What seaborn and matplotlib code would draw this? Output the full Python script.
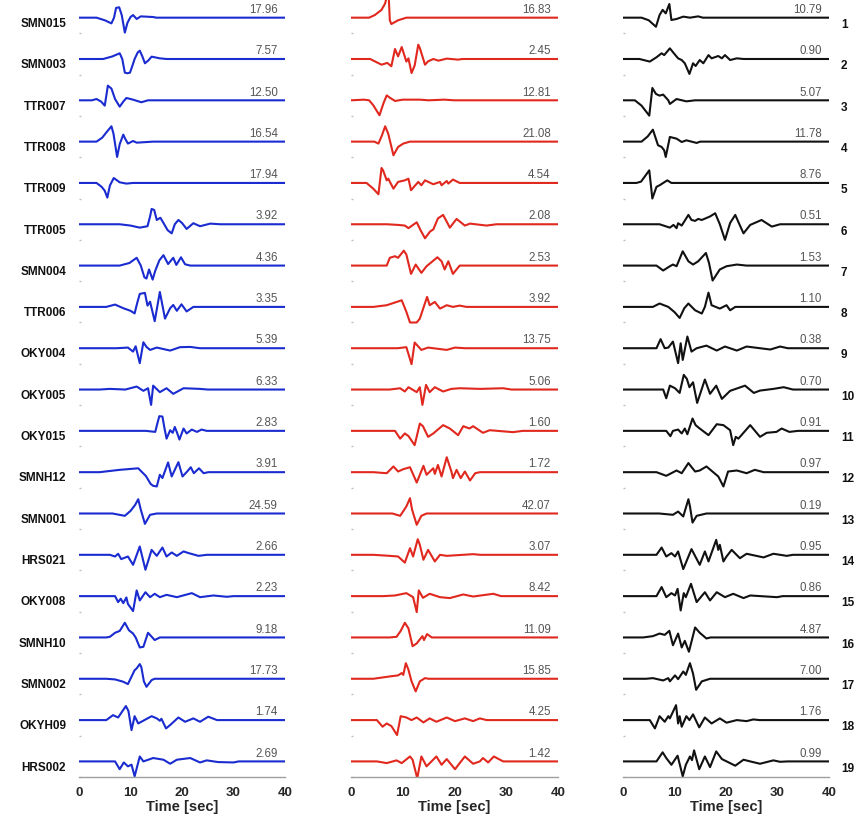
import matplotlib
matplotlib.use("Agg")
import matplotlib.pyplot as plt
import pandas as pd
import seaborn as sns

sns.set_style("white")
plt.rcParams["font.family"] = ["Liberation Sans", "DejaVu Sans"]

# ---------------- data ----------------
blue_labels = ["SMN015", "SMN003", "TTR007", "TTR008", "TTR009", "TTR005", "SMN004",
               "TTR006", "OKY004", "OKY005", "OKY015", "SMNH12", "SMN001", "HRS021",
               "OKY008", "SMNH10", "SMN002", "OKYH09", "HRS002"]
row_numbers = [str(i) for i in range(1, 20)]

blue_values = ["17.96", "7.57", "12.50", "16.54", "17.94", "3.92", "4.36", "3.35", "5.39", "6.33",
               "2.83", "3.91", "24.59", "2.66", "2.23", "9.18", "17.73", "1.74", "2.69"]
red_values = ["16.83", "2.45", "12.81", "21.08", "4.54", "2.08", "2.53", "3.92", "13.75", "5.06",
              "1.60", "1.72", "42.07", "3.07", "8.42", "11.09", "15.85", "4.25", "1.42"]
black_values = ["10.79", "0.90", "5.07", "11.78", "8.76", "0.51", "1.53", "1.10", "0.38", "0.70",
                "0.91", "0.97", "0.19", "0.95", "0.86", "4.87", "7.00", "1.76", "0.99"]

# waveform knots (time [s], normalised amplitude)
blue_traces = [
    [(0,0),(3.4,0),(5,-0.2),(6.3,-0.44),(6.8,0),(7.2,0.75),(7.8,0.8),(8.3,0.2),(8.9,-1.15),(9.4,-0.4),(10.0,0.05),(10.5,0.2),(11.2,-0.1),(12,0.1),(14.4,0.05),(15,0),(40,0)],
    [(0,0),(4.7,0),(6.5,0.2),(7.9,0.44),(8.4,0),(8.9,-1.05),(9.4,-1.1),(9.9,-1.05),(10.3,-0.6),(10.8,0.0),(11.4,0.5),(11.8,0.64),(12.3,0.2),(12.8,-0.33),(13.5,-0.1),(14.1,0.18),(15.7,0.05),(17,0),(40,0)],
    [(0,0),(2.5,0),(3.4,0.1),(4.3,-0.1),(5.0,-0.41),(5.4,0.6),(5.6,1.13),(6.3,0.9),(7.0,0.1),(7.9,-0.49),(8.6,-0.1),(9.2,0.18),(10.5,0.05),(12.1,-0.15),(13.4,0),(40,0)],
    [(0,0),(3.4,0),(4.5,0.3),(5.5,0.8),(6.3,1.18),(6.7,0.6),(7.4,-1.18),(7.9,-0.2),(8.6,0.54),(9.0,0.2),(9.5,-0.15),(10.5,0.05),(11.2,-0.08),(14.4,0),(40,0)],
    [(0,0),(3.4,0),(4.4,-0.3),(5.0,-0.6),(5.5,-1.13),(6.0,-0.2),(6.75,0.38),(7.9,0.05),(9.2,-0.05),(10.5,0),(40,0)],
    [(0,0),(7.9,0),(10,-0.1),(11.8,-0.26),(13.3,-0.15),(13.8,0.6),(14.1,1.18),(14.6,1.1),(15.1,0.33),(15.8,0.5),(16.4,0.1),(17.2,-0.45),(18.0,-0.7),(18.6,0),(19.3,0.33),(20.0,0.1),(20.9,-0.36),(22.2,0.08),(23.5,-0.15),(25.5,0.05),(27.4,0),(40,0)],
    [(0,0),(7.9,0),(9.8,0.2),(11.2,0.6),(12.0,0),(12.7,-0.9),(13.1,-1.0),(13.6,-0.3),(14.3,-1.08),(14.8,-0.4),(15.6,0.4),(16.4,0.8),(17.3,0.12),(18.3,0.6),(18.9,0.05),(19.8,0.64),(20.6,0.1),(21.6,0),(40,0)],
    [(0,0),(5.3,0),(7.0,0.18),(8.6,-0.1),(10.0,-0.3),(10.8,-0.5),(11.3,0.3),(11.8,1.0),(12.8,1.08),(13.3,0.1),(13.8,0.4),(14.7,-1.1),(15.7,1.15),(16.7,-0.9),(17.7,-0.1),(18.3,0.15),(19.0,-0.3),(19.9,0.2),(20.9,-0.35),(22.2,0),(40,0)],
    [(0,0),(7.3,0),(9.5,0.05),(10.5,-0.26),(11.0,0.15),(11.8,-1.15),(12.5,0.46),(13.1,0.1),(13.8,-0.13),(15.1,0.05),(17.7,-0.18),(19.6,0.08),(21.6,0.1),(23.5,0),(40,0)],
    [(0,0),(4,0),(6,0.05),(9,0.0),(11.2,0.23),(12.5,-0.1),(13.4,0.1),(14.0,-1.18),(14.4,0.3),(15.7,-0.2),(17.0,0.1),(18.3,-0.33),(20.3,0.1),(23.5,0.05),(25,0),(40,0)],
    [(0,0),(13,0),(14.8,-0.08),(15.3,0.7),(15.6,1.13),(16.2,1.1),(16.6,0.2),(17.0,-0.6),(17.7,0.05),(18.2,-0.15),(18.6,0.3),(19.0,-0.1),(19.5,-0.67),(20.3,0.18),(20.9,-0.2),(21.9,0.1),(22.9,-0.08),(23.8,0.1),(24.8,0),(40,0)],
    [(0,0),(4,0),(7.9,0.18),(11.5,0.3),(13.0,-0.3),(13.9,-0.9),(14.4,-1.05),(15.1,-1.1),(15.7,-0.2),(16.2,-0.45),(17.3,0.75),(18.0,-0.33),(19.3,0.77),(20.1,-0.33),(21.0,0.05),(21.7,0.38),(22.3,-0.08),(23.3,0.3),(24.2,-0.08),(25.1,0),(40,0)],
    [(0,0),(6.5,0),(8.9,-0.18),(10.0,0.2),(10.9,0.66),(11.5,1.1),(12.0,0.3),(12.8,-0.8),(13.8,-0.1),(15.1,0),(40,0)],
    [(0,0),(6,0),(7.0,-0.13),(7.6,0.08),(8.2,-0.33),(9.5,-0.13),(10.5,-0.77),(11.8,0.64),(12.9,-1.15),(14.1,0.38),(15.1,-0.08),(16.2,0.56),(17.0,-0.13),(18.0,0.18),(19.0,-0.08),(20.3,0.26),(21.3,0.13),(23.2,-0.08),(24.8,0),(40,0)],
    [(0,0),(7,0),(7.6,-0.46),(8.1,-0.2),(8.6,-0.54),(9.2,-0.1),(9.5,-0.6),(10.5,-1.15),(11.2,0.44),(11.8,-0.33),(12.9,0.3),(13.8,-0.08),(14.7,0.18),(15.7,-0.08),(17.0,0.1),(19.0,-0.08),(21.9,0.23),(23.5,-0.08),(26.1,0.05),(28.7,-0.05),(30,0),(40,0)],
    [(0,0),(5.3,0),(6.0,0.05),(7.0,0.36),(7.9,0.5),(8.9,1.13),(9.7,0.55),(10.5,0.3),(11.0,0.0),(11.8,-0.77),(12.5,-0.72),(13.4,0.36),(14.7,-0.2),(15.7,0),(40,0)],
    [(0,0),(5.3,0),(7.0,-0.05),(8.6,-0.23),(9.5,-0.41),(10.8,0.66),(11.2,0.8),(11.8,1.13),(12.1,0.9),(12.6,-0.2),(13.1,-0.62),(14.1,-0.1),(14.7,0),(40,0)],
    [(0,0),(5.3,0),(6.6,0.38),(7.6,0.2),(9.1,1.08),(9.6,0.7),(10.2,-0.77),(10.8,0.3),(11.5,-0.26),(12.1,-0.13),(14.1,0.3),(15.1,0.13),(15.7,-0.05),(16.0,0.1),(16.9,-0.64),(17.7,-0.38),(19.3,0.2),(20.6,-0.13),(22.2,0.13),(23.5,-0.13),(25.1,0.26),(26.8,0),(40,0)],
    [(0,0),(7,0),(7.9,-0.6),(8.7,-0.08),(9.5,-0.38),(10.2,-0.25),(10.8,-1.15),(11.8,0.38),(12.5,0.0),(14.4,0.26),(16.4,0.13),(17.7,-0.18),(19.0,0.13),(21.6,0.26),(23.5,-0.08),(24.8,0.08),(27,-0.05),(30,-0.08),(31,0),(40,0)],
]

red_traces = [
    [(0,0),(3.5,0),(4.6,0.2),(5.9,0.6),(6.6,1.1),(6.9,1.6),(7.3,1.5),(7.5,-0.2),(7.8,-0.49),(9.1,-0.2),(10.7,0),(40,0)],
    [(0,0),(3.7,0),(5.9,-0.44),(7.0,-0.3),(7.8,-0.56),(8.5,0.77),(9.1,0.2),(9.8,0.92),(10.7,-0.2),(11.1,0.05),(11.7,-1.08),(12.3,-0.5),(13.0,1.1),(13.3,0.85),(14.3,-0.44),(14.9,-0.18),(15.9,0),(16.9,-0.13),(18.5,0.03),(20.7,-0.05),(21.5,0),(40,0)],
    [(0,0),(2.5,0.05),(3.5,0.0),(4.3,-0.38),(5.5,-1.15),(6.3,-0.2),(6.9,0.38),(7.5,0.2),(8.5,-0.05),(10,0.05),(13.3,0.05),(15,0.0),(18,0.05),(20,0),(40,0)],
    [(0,0),(4.5,0),(5.3,-0.15),(6.0,0.5),(6.6,1.18),(7.2,0.6),(8.2,-1.05),(9.1,-0.41),(10.1,-0.15),(11.4,0),(40,0)],
    [(0,0),(3,0),(4.3,-0.44),(5.3,-0.87),(5.9,1.15),(6.2,0.97),(6.9,0.2),(7.2,0.33),(8.2,-0.44),(9.1,0.08),(10.4,0.2),(11.1,0.33),(11.6,-0.56),(13.0,0.08),(13.6,-0.18),(14.3,0.2),(15.9,-0.1),(17.2,0.08),(17.5,-0.18),(18.5,0.15),(18.8,-0.05),(19.7,0.26),(21.0,0),(40,0)],
    [(0,0),(6.9,0),(9.1,-0.05),(10.4,-0.1),(11.1,-0.3),(12.7,0.15),(13.5,-0.5),(14.3,-1.08),(15.3,-0.55),(15.9,-0.4),(16.8,0.45),(17.8,0.72),(18.5,0.2),(19.1,-0.26),(20.4,0.41),(22.0,-0.1),(23.0,0.05),(26.2,-0.1),(28.1,0),(40,0)],
    [(0,0),(6.9,0),(7.5,0.6),(8.5,0.72),(9.1,0.6),(10.2,1.15),(10.7,0.85),(11.6,-0.64),(12.5,0.08),(13.6,-0.56),(14.6,-0.05),(16.7,0.64),(17.5,0.33),(18.1,-0.3),(18.8,0.33),(19.7,-0.64),(21.0,0),(40,0)],
    [(0,0),(4.3,0),(6.9,0.13),(9.8,0.51),(10.7,-0.38),(11.4,-1.2),(12.7,-1.2),(13.3,-0.9),(14.7,0.77),(15.2,0.13),(16.2,0.38),(17.2,-0.13),(18.5,0.13),(19.7,0),(21.0,0.1),(22.3,0),(40,0)],
    [(0,0),(9,0),(10.7,0.08),(11.7,-1.23),(12.3,0.44),(13.6,-0.13),(14.9,0.05),(18.5,-0.13),(20.1,0.05),(22,0),(40,0)],
    [(0,0),(7.5,0),(9.5,0.1),(10.4,-0.15),(11.1,0.18),(12.7,-0.2),(13.3,0.18),(13.8,-1.18),(14.5,0.36),(15.2,-0.2),(16.2,0.18),(17.8,-0.15),(19.4,0.05),(21.0,0.1),(25,0.05),(29.4,0.1),(31,0),(40,0)],
    [(0,0),(8.5,0),(9.5,-0.6),(10.4,-0.2),(11.1,-0.4),(12.3,-1.1),(13.3,0.56),(13.9,0.36),(14.9,-0.46),(15.9,-0.2),(17.8,0.44),(19.1,0.18),(20.7,-0.33),(21.7,0.36),(22.9,0.18),(23.6,0.36),(25.5,-0.15),(26.8,0.05),(31.3,-0.1),(33.2,0),(40,0)],
    [(0,0),(4.3,0),(6.9,-0.08),(8.2,0.44),(9.1,0.05),(10.1,0.23),(11.4,0.38),(12.7,-0.8),(14.0,0.49),(14.6,-0.2),(15.9,0.3),(16.2,-0.13),(16.8,0.56),(17.5,-0.33),(18.5,1.15),(19.4,0.05),(19.7,-0.46),(20.4,0.18),(21.2,-0.46),(22.0,0.05),(23.0,-0.64),(24.0,-0.08),(24.9,0),(40,0)],
    [(0,0),(8,0),(9.5,-0.18),(10.7,0.54),(11.4,1.18),(11.8,0.3),(12.7,-0.87),(13.6,-0.18),(14.6,0),(40,0)],
    [(0,0),(4.3,0),(7.5,-0.08),(9.1,-0.13),(10.4,-0.6),(11.4,0.51),(12.0,-0.13),(12.9,1.2),(13.3,0.77),(14.0,-0.38),(14.9,0.38),(16.2,-0.51),(17.2,0),(18.5,-0.08),(23.6,0.05),(25,0),(40,0)],
    [(0,0),(6.2,0),(8.5,0.05),(10.7,0.23),(12.0,-0.08),(12.7,-1.23),(13.1,0.44),(13.9,-0.13),(15.2,0.18),(17.2,-0.08),(19.1,-0.15),(21.7,0.13),(23.6,-0.03),(27.5,0.18),(29,0),(40,0)],
    [(0,0),(7.5,0),(8.8,0.05),(9.6,0.5),(10.4,1.13),(11.1,0.7),(11.9,-0.67),(12.7,-0.46),(13.3,-0.15),(13.8,0.1),(14.1,-0.2),(14.7,0.26),(15.6,0),(40,0)],
    [(0,0),(4.3,0),(7.5,0.18),(9.1,0.26),(9.8,0.44),(10.1,0.3),(10.6,1.2),(11.1,0.7),(11.7,-0.2),(12.5,-0.97),(13.3,-0.2),(14.3,0.05),(15,0),(40,0)],
    [(0,0),(5,0),(6.1,-0.51),(6.9,-0.26),(7.8,-0.46),(8.9,-1.15),(9.6,0.3),(10.7,0.2),(11.7,0),(12.7,0.2),(14.0,-0.18),(15.2,0.13),(16.5,-0.13),(18.5,0.2),(20.1,-0.08),(22.0,0.13),(23.6,-0.08),(24.9,0.13),(26.2,0),(40,0)],
    [(0,0),(5,0),(6.9,-0.13),(8.8,0.08),(9.8,-0.13),(11.4,0.38),(11.9,0.13),(12.8,-1.3),(13.6,0.38),(14.6,-0.38),(16.5,0.38),(17.5,-0.26),(18.5,0.18),(20.1,-0.6),(22.0,0.38),(23.6,-0.18),(24.9,0.0),(25.5,0.26),(26.5,-0.08),(27.6,0.38),(29.4,0),(40,0)],
]

black_traces = [
    [(0,0),(3.6,0),(5.0,-0.2),(6.4,-0.7),(7.1,0.2),(7.7,0.6),(8.3,0.33),(9.0,1.05),(9.4,-0.18),(10.4,-0.1),(11.7,0.08),(13.0,0),(14.6,0.1),(15.5,0),(40,0)],
    [(0,0),(3.2,0),(5.2,-0.2),(6.5,0.13),(7.5,0.44),(8.0,0.3),(9.1,0.82),(10.0,0.38),(10.7,0.05),(11.4,-0.08),(12.0,-0.33),(12.9,-1.15),(13.6,-0.33),(14.1,-0.54),(14.9,-0.08),(15.6,-0.33),(16.6,0.3),(17.2,0.05),(18.5,0.23),(19.2,0.05),(19.8,0.3),(20.8,-0.08),(22.1,0.05),(23.4,0),(40,0)],
    [(0,0),(2.3,0),(3.6,-0.41),(5.1,-1.18),(5.7,0.95),(6.4,0.49),(7.1,0.36),(7.8,0.44),(8.8,0),(9.1,-0.28),(10.4,0.1),(12.3,-0.08),(14,0),(40,0)],
    [(0,0),(3.6,0),(4.8,0.4),(5.8,0.92),(6.8,-0.28),(7.5,-0.41),(8.0,-0.67),(8.3,-1.18),(9.1,0.36),(10.4,0.23),(11.4,-0.03),(12.3,0.1),(14.3,-0.1),(15,0),(40,0)],
    [(0,0),(2.6,0),(3.5,0.1),(5.1,0.97),(5.7,-1.2),(6.5,-0.3),(7.1,-0.18),(8.6,0.2),(9.4,0),(40,0)],
    [(0,0),(7.1,0),(9.1,-0.26),(9.8,-0.05),(10.4,-0.3),(10.7,0.08),(11.4,-0.1),(12.7,0.72),(13.3,0.33),(14.0,0.26),(14.6,0.41),(15.3,0.33),(16.9,0.6),(17.9,0.85),(18.8,0.0),(19.8,-1.2),(20.8,0.1),(21.8,0.72),(22.6,0.0),(23.4,-0.7),(24.7,-0.05),(26.9,0.33),(28.9,-0.18),(30.5,0),(40,0)],
    [(0,0),(6.5,0),(7.8,-0.38),(9.1,-0.05),(9.7,0.08),(10.4,-0.05),(11.6,1.1),(12.7,0.33),(13.6,0.08),(14.6,0.33),(16.1,0.97),(16.7,0.2),(17.4,-1.15),(18.8,-0.3),(20.1,-0.05),(22.1,0.08),(24,0),(40,0)],
    [(0,0),(5.8,0),(7.1,0.26),(8.8,0),(10.0,-0.4),(11.0,-0.85),(11.9,-0.1),(12.7,0.26),(14.0,-0.26),(15.3,-0.51),(15.9,0.0),(16.6,1.1),(17.2,0.13),(18.8,-0.13),(20.1,0.13),(20.8,-0.26),(21.8,0),(40,0)],
    [(0,0),(6.5,0),(7.3,0.7),(8.1,0.0),(8.8,0.05),(9.7,0.51),(10.7,-1.15),(11.2,0.38),(11.6,-0.9),(12.5,0.9),(13.3,-0.26),(14.3,0.0),(16.2,0.2),(18.2,-0.18),(19.8,0.13),(22.1,-0.18),(24.0,0.13),(28.6,-0.1),(30.5,0.13),(32,0),(40,0)],
    [(0,0),(7.8,0),(8.4,-0.67),(9.1,0.3),(10.1,0.1),(11.0,-0.26),(11.8,1.13),(12.4,0.82),(12.9,0.18),(13.6,0.56),(14.4,-1.03),(15.9,0.77),(16.9,-0.33),(18.1,0.3),(19.2,-0.72),(20.8,-0.1),(23.7,0.3),(25.4,-0.26),(26.6,-0.08),(29.2,0.05),(31.2,0.18),(33,0),(40,0)],
    [(0,0),(8.4,0),(9.2,-0.41),(9.7,0.0),(10.7,0.1),(11.4,-0.2),(12.0,0.18),(12.5,-0.26),(13.5,0.95),(14.1,0.44),(14.9,0.18),(16.6,-0.33),(18.2,0.51),(19.5,0.44),(20.8,0.05),(21.4,-1.1),(21.9,-0.46),(22.4,-0.6),(24.7,0.44),(26.6,-0.46),(27.9,-0.15),(29.8,-0.08),(30.8,0.18),(32.3,-0.08),(34,0),(40,0)],
    [(0,0),(6.5,0),(8.4,-0.28),(10.4,0.13),(11.4,-0.08),(12.7,0.7),(14.0,0.05),(14.9,0.13),(16.2,0.44),(18.5,-0.33),(19.5,-1.1),(20.4,0.05),(22.1,0.13),(24.0,-0.08),(25.6,0.18),(27.3,0),(40,0)],
    [(0,0),(7,0),(9.7,-0.1),(10.7,0.15),(11.7,-0.23),(12.7,1.1),(13.0,0.55),(13.5,-0.7),(14.3,-0.18),(16.2,0),(40,0)],
    [(0,0),(6.5,0),(7.5,0.56),(8.4,-0.13),(9.4,0.13),(10.1,-0.13),(10.7,0.26),(11.7,-1.1),(13.3,0.44),(14.9,-0.77),(15.9,0.26),(16.6,-0.51),(18.1,1.15),(18.5,0.38),(18.8,0.77),(19.5,-0.51),(20.1,-0.13),(21.1,0.38),(22.7,-0.26),(24.0,0.08),(27.3,-0.2),(29.2,0.08),(31.8,-0.08),(33,0),(40,0)],
    [(0,0),(6.5,0),(7.5,0.7),(8.4,-0.08),(9.4,0.23),(10.1,0.05),(10.6,0.56),(11.2,-1.1),(11.8,0.23),(12.2,-0.08),(13.2,0.95),(14.3,-0.46),(15.9,0.3),(16.9,-0.33),(18.2,0.3),(19.8,-0.08),(21.4,0.18),(23.4,-0.15),(24.7,0.05),(29.9,-0.08),(31,0),(40,0)],
    [(0,0),(3.9,0),(5.8,0.1),(7.1,0.3),(8.1,0.2),(9.0,0.51),(9.7,-0.6),(10.7,0.3),(11.4,-0.77),(12.0,-0.26),(12.8,-1.1),(14.0,0.77),(14.9,0.36),(16.2,-0.08),(17,0),(40,0)],
    [(0,0),(4.5,0),(5.8,0.05),(7.8,-0.13),(8.8,0.05),(9.1,-0.2),(10.1,0.26),(10.7,-0.03),(11.7,0.56),(12.2,0.3),(13.0,1.2),(13.6,0.4),(14.2,-0.85),(15.3,-0.2),(16.9,0),(40,0)],
    [(0,0),(5.2,0),(6.2,-0.64),(7.1,0.3),(8.1,-0.13),(8.8,0.3),(9.1,0.13),(10.3,1.15),(10.7,-0.26),(11.0,0.3),(11.4,-0.51),(12.3,0.3),(12.9,0.0),(13.6,0.44),(14.8,-0.56),(15.9,0.2),(17.2,-0.26),(18.8,0.13),(20.1,-0.2),(22.1,0.0),(24.0,-0.08),(25.3,0.05),(26.5,0),(40,0)],
    [(0,0),(6.5,0),(7.7,0.7),(8.4,0.26),(9.4,-0.26),(10.6,0.44),(11.6,-1.15),(12.2,-0.26),(13.0,0.38),(13.4,0.1),(13.8,0.85),(14.8,-0.6),(15.9,0.38),(16.9,-0.44),(18.1,0.77),(19.2,0.18),(21.8,-0.33),(23.4,0.13),(24.7,0.0),(26.6,-0.18),(29.2,0.08),(30.5,-0.03),(32,0),(40,0)],
]

time_ticks = [0, 10, 20, 30, 40]
colors = ["#1a2bd0", "#e0281e", "#111111"]

# ---------------- layout ----------------
W, H = 857, 816
SP = 3.18            # vertical spacing between traces (amplitude units)
NROW = 19
fig = plt.figure(figsize=(W / 100, H / 100), dpi=100)
col_left = [79, 351, 623]
col_width = [206, 207, 206]
columns = [(blue_traces, blue_values), (red_traces, red_values), (black_traces, black_values)]

for c, (traces, values) in enumerate(columns):
    ax = fig.add_axes([col_left[c] / W, 39 / H, col_width[c] / W, 777 / H])
    rows = []
    for i, knots in enumerate(traces):
        off = (NROW - 1 - i) * SP
        for t, a in knots:
            rows.append({"trace": i, "t": t, "y": a + off})
    df = pd.DataFrame(rows)
    sns.lineplot(data=df, x="t", y="y", units="trace", estimator=None, sort=False,
                 color=colors[c], lw=1.5, ax=ax, legend=False)
    ax.set_xlim(0, 40)
    ax.set_ylim(-1.18, (NROW - 1) * SP + 1.36)
    for s in ["top", "right", "left"]:
        ax.spines[s].set_visible(False)
    ax.spines["bottom"].set_color("#a0a0a0")
    ax.spines["bottom"].set_linewidth(1.0)
    ax.set_xticks(time_ticks)
    ax.set_xticklabels([str(v) for v in time_ticks], fontweight="bold", fontsize=9.5)
    ax.tick_params(axis="x", direction="in", length=2.5, color="#a0a0a0", pad=7)
    offsets = [(NROW - 1 - i) * SP for i in range(NROW)]
    ax.set_yticks([o - 1.2 for o in offsets])
    ax.set_yticklabels([])
    ax.tick_params(axis="y", direction="in", length=1.5, width=1.0, color="#c0c0c0", left=True)
    ax.set_xlabel("Time [sec]", fontweight="bold", fontsize=10.5, labelpad=1)
    ax.set_ylabel("")
    for i in range(NROW):
        off = offsets[i]
        ax.text(38.6, off + 0.6, values[i], ha="right", va="center", fontsize=8.3, color="#555555")
        if c == 0:
            ax.text(-2.5, off - 0.48, blue_labels[i], ha="right", va="center",
                    fontsize=8.5, fontweight="bold", color="#111111")
        if c == 2:
            ax.text(42.3, off - 0.56, row_numbers[i], ha="left", va="center",
                    fontsize=8.5, fontweight="bold", color="#111111")

fig.savefig("out.png", dpi=100)
